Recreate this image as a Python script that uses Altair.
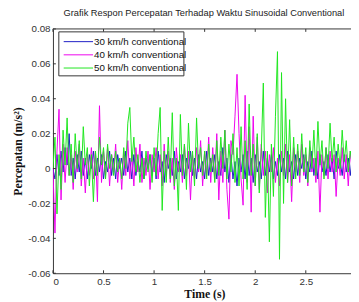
import altair as alt
import pandas as pd

series_names = ["30 km/h conventional", "40 km/h conventional", "50 km/h conventional"]
series_colors = ["#1c1cc4", "#ee00ee", "#1ee61e"]

# acceleration in 1/1000 m/s^2, sampled every 0.02 s
acc30 = [0, -6, 8, -4, 10, -2, 12, 2, 20, -4,
         6, -6, 8, -2, 10, -4, 6, -6, 8, 0,
         10, -4, 6, -2, 8, -6, 4, -2, 10, -4,
         6, -6, 8, 0, 6, -4, 10, -2, 6, -6,
         8, -4, 4, -2, 10, -6, 6, 0, 8, -4,
         6, -6, 10, -2, 4, -8, 8, 0, 6, -4,
         10, -6, 4, -2, 8, -6, 6, 0, 10, -4,
         6, -6, 8, -2, 4, -6, 10, -4, 6, -2,
         8, -6, 4, -4, 12, -2, 6, -8, 8, -6,
         4, -10, 6, -2, 8, -6, 10, -4, 6, -8,
         8, -2, 4, -6, 10, -4, 6, -2, 8, -6,
         4, -4, 8, -2, 6, -6, 10, -2, 4, -6,
         8, -4, 6, 0, 8, -6, 4, -2, 10, -4,
         6, -6, 8, -2, 4, -4, 8, -2, 6, -6,
         10, 0, 4, -4, 8, -2, 6, -4, 8, 0]
acc40 = [0, -37, 10, 34, -18, 14, -8, 12, -4, 8,
         -12, 10, -2, 14, -10, 6, -14, 8, -4, 12,
         -6, 10, -19, 36, -8, 10, -4, 12, -10, 8,
         -2, 14, -8, 6, -12, 10, -4, 16, -6, 8,
         -10, 12, -2, 14, -8, 6, -4, 10, -12, 8,
         -2, 12, -6, 8, -10, 14, -4, 10, -8, 6,
         -12, 12, -2, 8, -8, 14, -4, 10, -18, 8,
         -6, 12, -2, 16, -10, 10, -4, 18, -8, 12,
         -6, 20, -18, 10, -8, 22, -12, -29, 16, 8,
         30, 54, 20, -6, -21, 42, -8, 24, -25, 30,
         -10, 18, -12, 14, -4, 10, -14, 8, -2, 12,
         -8, 6, -10, 10, -4, 14, -8, 8, -19, 12,
         -2, 10, -8, 14, -4, 8, -10, 12, -2, 6,
         -8, 10, -25, 8, -4, 12, -6, 10, -2, 8,
         -16, 6, -4, 12, -6, 8, -10, 10, -2, 6]
acc50 = [0, 18, -26, 8, -12, 22, 2, 29, -4, 14,
         -8, 20, 0, 16, -6, 24, 2, 12, -10, 8,
         -19, 10, -4, 18, 2, 12, -6, 14, 0, 8,
         -4, 10, -2, 6, -6, 12, 0, 26, 35, 4,
         18, -2, 8, -8, 6, -6, 10, -2, 8, -8,
         12, -4, 20, 35, -24, 10, -8, 18, -6, 32,
         -10, 6, -24, 31, -4, 14, -12, 26, -2, 10,
         -10, 29, 0, 12, -4, 10, -6, 14, -2, 8,
         -8, 16, -4, 18, 0, 22, -6, 14, -2, 20,
         -8, 12, -10, 24, -6, 16, -12, 37, -4, 14,
         -10, 20, -14, 10, 49, -28, 10, -42, 14, -16,
         30, 67, -52, 55, -20, 40, -8, 28, -10, 18,
         -6, 14, -4, 20, -2, 12, -8, 16, 0, 22,
         -4, 27, 2, 16, -6, 12, 0, 26, 4, 18,
         -2, 14, 0, 22, 4, 16, -2, 10, 2, 12]
time_s = [round(i * 0.02, 2) for i in range(len(acc30))]

x_ticks = [0, 0.5, 1, 1.5, 2, 2.5]
y_ticks = [-0.06, -0.04, -0.02, 0, 0.02, 0.04, 0.06, 0.08]

W, H = 305, 250
AX = "#333333"

xscale = alt.Scale(domain=[0, 2.947], nice=False, zero=False)
yscale = alt.Scale(domain=[-0.06, 0.08], nice=False, zero=False)
xaxis = alt.Axis(values=x_ticks, title="Time (s)", labelExpr="'' + datum.value",
                 titleX=155, labelPadding=4, titlePadding=2)
yaxis = alt.Axis(values=y_ticks, title="Percepatan (m/s²)", labelExpr="'' + datum.value",
                 labelPadding=3, titlePadding=3)


def series_df(vals):
    return pd.DataFrame({"t": time_s, "a": [v / 1000 for v in vals]})


line_layers = []
for i, vals in enumerate([acc30, acc40, acc50]):
    line_layers.append(
        alt.Chart(series_df(vals)).mark_line(color=series_colors[i], strokeWidth=1, clip=True)
        .encode(x=alt.X("t:Q", scale=xscale, axis=xaxis), y=alt.Y("a:Q", scale=yscale, axis=yaxis))
    )

one = alt.Data(values=[{}])
top_border = alt.Chart(one).mark_rule(color=AX, strokeWidth=1).encode(
    x=alt.value(0), x2=alt.value(W), y=alt.value(0))
yt = pd.DataFrame({"a": y_ticks})
xt = pd.DataFrame({"t": x_ticks})
left_ticks = alt.Chart(yt).mark_rule(color=AX).encode(
    y=alt.Y("a:Q", scale=yscale, axis=yaxis), x=alt.value(0), x2=alt.value(3))
bottom_ticks = alt.Chart(xt).mark_rule(color=AX).encode(
    x=alt.X("t:Q", scale=xscale, axis=xaxis), y=alt.value(H), y2=alt.value(H - 3))
top_ticks = alt.Chart(xt).mark_rule(color=AX).encode(
    x=alt.X("t:Q", scale=xscale, axis=xaxis), y=alt.value(0), y2=alt.value(3))

legend_box = alt.Chart(one).mark_rect(fill="white", stroke=AX, strokeWidth=1).encode(
    x=alt.value(6), x2=alt.value(134), y=alt.value(3), y2=alt.value(48))
legend_layers = [legend_box]
for i, name in enumerate(series_names):
    yy = 13 + i * 13.5
    legend_layers.append(alt.Chart(one).mark_rule(color=series_colors[i], strokeWidth=1).encode(
        x=alt.value(11), x2=alt.value(41), y=alt.value(yy)))
    legend_layers.append(alt.Chart(pd.DataFrame({"name": [name]})).mark_text(
        align="left", baseline="middle", font="Liberation Sans", fontSize=10, color="#111")
        .encode(text="name:N", x=alt.value(42), y=alt.value(yy + 0.5)))

chart = alt.layer(
    *line_layers, top_border, left_ticks, bottom_ticks, top_ticks, *legend_layers
).properties(
    width=W, height=H,
    title=alt.TitleParams("Grafik Respon Percepatan Terhadap Waktu Sinusoidal Conventional",
                          font="Liberation Sans", fontSize=9.5, fontWeight="normal",
                          color="#222", anchor="middle", dx=2, offset=7),
    autosize=alt.AutoSizeParams(type="none"),
    padding={"left": 46, "top": 18, "right": 0, "bottom": 26},
).configure_view(stroke=None).configure_axis(
    domainColor=AX, labelColor="#333", labelFont="Liberation Sans", labelFontSize=10,
    tickSize=0, grid=False, titleFont="Liberation Serif", titleFontSize=12,
    titleFontWeight="bold", titleColor="#111"
)

chart.save("out.html", embed_options={"renderer": "svg", "actions": False})
